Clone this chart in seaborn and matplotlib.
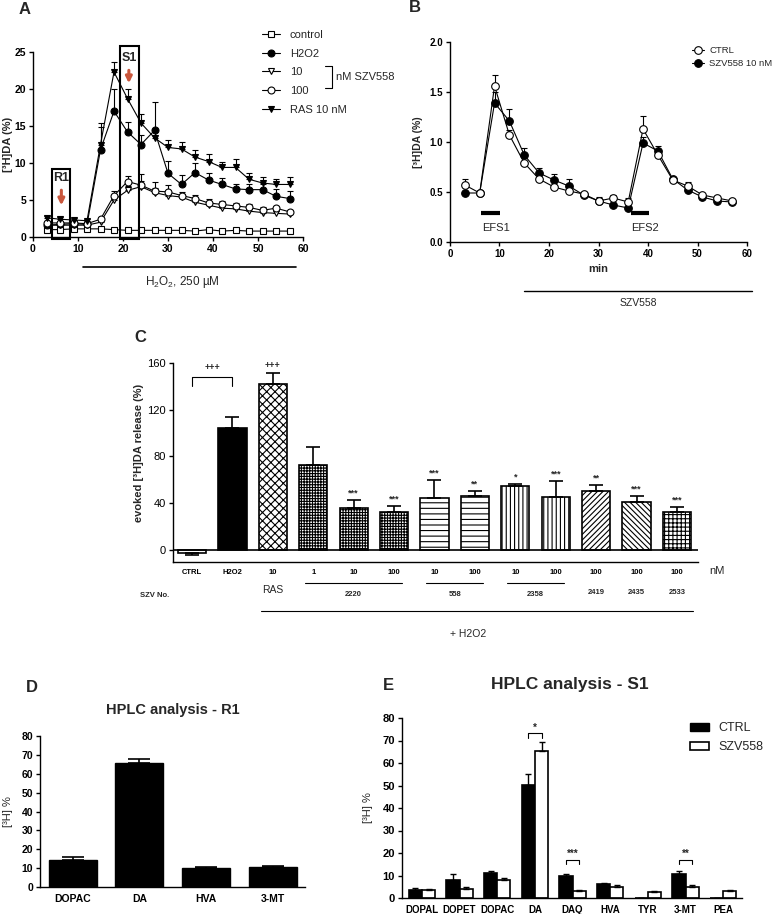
import numpy as np
import pandas as pd
import matplotlib
matplotlib.use("Agg")
import matplotlib.pyplot as plt
import matplotlib.transforms as mtransforms
from matplotlib.lines import Line2D
from matplotlib.patches import Rectangle, Patch
import seaborn as sns

sns.set_style("ticks")
plt.rcParams["font.family"] = ["Liberation Sans", "DejaVu Sans"]
plt.rcParams["mathtext.fontset"] = "custom"
plt.rcParams["mathtext.rm"] = "Liberation Sans"
plt.rcParams["mathtext.it"] = "Liberation Sans:italic"
plt.rcParams["mathtext.bf"] = "Liberation Sans:bold"
plt.rcParams["hatch.linewidth"] = 0.8
plt.rcParams["axes.linewidth"] = 1.0
plt.rcParams["axes.edgecolor"] = "black"
plt.rcParams["xtick.color"] = "black"
plt.rcParams["ytick.color"] = "black"

# ---------------- data: panel A ----------------
time_a = [3, 6, 9, 12, 15, 18, 21, 24, 27, 30, 33, 36, 39, 42, 45, 48, 51, 54, 57]
a_control = [1.0, 1.0, 1.1, 1.1, 1.1, 1.0, 0.9, 0.9, 0.9, 0.9, 0.9, 0.8, 1.0, 0.8, 0.9, 0.8, 0.8, 0.8, 0.8]
a_control_err = [0.1] * 19
a_h2o2 = [1.6, 1.7, 1.8, 1.7, 11.8, 17.0, 14.2, 12.5, 14.4, 8.6, 7.1, 8.7, 7.7, 7.1, 6.5, 6.4, 6.4, 5.5, 5.2]
a_h2o2_err = [0.3, 0.3, 0.3, 0.3, 3.0, 3.0, 1.3, 1.3, 3.9, 1.7, 1.3, 1.3, 1.0, 0.9, 0.7, 0.8, 0.7, 1.0, 1.0]
a_10 = [1.6, 1.6, 1.6, 1.6, 2.0, 5.0, 6.3, 6.8, 6.0, 5.6, 5.4, 4.7, 4.3, 3.9, 3.8, 3.5, 3.3, 3.2, 3.1]
a_10_err = [0.2, 0.2, 0.2, 0.2, 0.3, 0.5, 0.6, 0.8, 0.6, 0.5, 0.4, 0.4, 0.4, 0.3, 0.3, 0.3, 0.3, 0.3, 0.3]
a_100 = [1.9, 1.9, 1.9, 1.8, 2.4, 5.6, 7.5, 7.0, 6.2, 6.1, 5.6, 5.2, 4.6, 4.4, 4.2, 4.0, 3.6, 3.9, 3.4]
a_100_err = [0.2, 0.2, 0.2, 0.2, 0.3, 0.6, 0.8, 1.5, 1.2, 0.9, 0.5, 0.5, 0.5, 0.4, 0.4, 0.4, 0.4, 0.3, 0.3]
a_ras = [2.6, 2.4, 2.3, 2.2, 12.5, 22.3, 18.7, 15.4, 13.4, 12.1, 11.9, 10.8, 10.2, 9.4, 9.4, 7.8, 7.3, 7.1, 7.1]
a_ras_err = [0.3, 0.3, 0.3, 0.3, 2.9, 1.4, 1.3, 1.2, 1.2, 1.0, 1.0, 0.9, 1.0, 0.7, 1.1, 0.8, 0.8, 0.8, 1.0]
a_labels = ["control", "H2O2", "10", "100", "RAS 10 nM"]

# ---------------- data: panel B ----------------
time_b = [3, 6, 9, 12, 15, 18, 21, 24, 27, 30, 33, 36, 39, 42, 45, 48, 51, 54, 57]
b_ctrl = [0.57, 0.49, 1.56, 1.07, 0.79, 0.63, 0.55, 0.51, 0.48, 0.41, 0.44, 0.40, 1.13, 0.87, 0.62, 0.56, 0.47, 0.44, 0.41]
b_ctrl_err = [0.06, 0.02, 0.11, 0.05, 0.02, 0.02, 0.02, 0.01, 0.02, 0.04, 0.03, 0.04, 0.13, 0.02, 0.02, 0.04, 0.01, 0.02, 0.02]
b_szv = [0.49, 0.49, 1.39, 1.21, 0.87, 0.69, 0.62, 0.56, 0.47, 0.41, 0.37, 0.34, 0.99, 0.91, 0.63, 0.52, 0.45, 0.41, 0.40]
b_szv_err = [0.02, 0.02, 0.11, 0.12, 0.07, 0.05, 0.06, 0.07, 0.02, 0.02, 0.02, 0.02, 0.06, 0.05, 0.02, 0.03, 0.02, 0.02, 0.02]
b_labels = ["CTRL", "SZV558 10 nM"]

# ---------------- data: panel C ----------------
c_ids = ["CTRL", "H2O2", "RAS-10", "2220-1", "2220-10", "2220-100", "558-10", "558-100",
         "2358-10", "2358-100", "2419-100", "2435-100", "2533-100"]
c_ticklabels = ["CTRL", "H2O2", "10", "1", "10", "100", "10", "100", "10", "100", "100", "100", "100"]
c_values = [-2.9, 104.6, 142.0, 72.7, 35.9, 32.8, 44.8, 46.2, 54.7, 45.6, 50.7, 40.8, 32.5]
c_err = [1.4, 9.4, 9.7, 15.3, 6.6, 5.1, 14.8, 4.3, 2.0, 13.4, 5.2, 5.7, 4.0]
c_stars = ["", "", "+++", "", "***", "***", "***", "**", "*", "***", "**", "***", "***"]
c_groups = ["2220", "558", "2358"]
c_singles = ["2419", "2435", "2533"]

# ---------------- data: panel D ----------------
d_cats = ["DOPAC", "DA", "HVA", "3-MT"]
d_vals = [14.3, 65.8, 10.2, 10.8]
d_err = [1.4, 2.0, 0.3, 0.4]

# ---------------- data: panel E ----------------
e_cats = ["DOPAL", "DOPET", "DOPAC", "DA", "DAQ", "HVA", "TYR", "3-MT", "PEA"]
e_ctrl = [3.7, 8.1, 11.0, 50.4, 9.6, 6.1, 0.0, 10.7, 0.0]
e_ctrl_err = [0.7, 2.7, 1.0, 4.9, 1.2, 0.6, 0.0, 1.2, 0.0]
e_szv = [3.4, 4.1, 8.0, 65.5, 3.3, 4.9, 2.7, 4.9, 3.1]
e_szv_err = [0.5, 0.6, 0.9, 3.8, 0.4, 0.9, 0.4, 0.9, 0.6]
e_sig = {"DA": "*", "DAQ": "***", "3-MT": "**"}

# ---------------- layout helpers ----------------
W, H = 779, 914
fig = plt.figure(figsize=(W / 100, H / 100), dpi=100)


def rect(x0, y0, x1, y1):
    return [x0 / W, 1 - y1 / H, (x1 - x0) / W, (y1 - y0) / H]


def ftext(x, y, s, **kw):
    fig.text(x / W, 1 - y / H, s, **kw)


def style_ticks(ax, size=7.5, bold=True):
    ax.tick_params(direction="out", length=3, width=1, labelsize=size, pad=2)
    for lab in ax.get_xticklabels() + ax.get_yticklabels():
        lab.set_fontweight("bold" if bold else "normal")


# ======================= Panel A =======================
axA = fig.add_axes(rect(33, 52, 303, 237))
styleA = [("s", "white"), ("o", "black"), ("v", "white"), ("o", "white"), ("v", "black")]
seriesA = [(a_control, a_control_err), (a_h2o2, a_h2o2_err), (a_10, a_10_err),
           (a_100, a_100_err), (a_ras, a_ras_err)]
handlesA = []
for (vals, errs), (mk, fc), lab in zip(seriesA, styleA, a_labels):
    axA.errorbar(time_a, vals, yerr=[np.zeros(len(vals)), errs], fmt="none", ecolor="k",
                 elinewidth=0.8, capsize=2.5, capthick=0.8, zorder=2)
    sns.lineplot(x=time_a, y=vals, ax=axA, color="k", lw=0.8, marker=mk, markersize=5,
                 markerfacecolor=fc, markeredgecolor="k", markeredgewidth=0.8,
                 errorbar=None, zorder=3)
    handlesA.append(Line2D([0], [0], color="k", lw=0.8, marker=mk, markersize=5,
                           markerfacecolor=fc, markeredgecolor="k", markeredgewidth=0.8))
axA.set_xlim(0, 60)
axA.set_ylim(0, 25)
axA.set_xticks(range(0, 61, 10))
axA.set_yticks(range(0, 26, 5))
axA.set_xlabel("")
axA.set_ylabel("[³H]DA (%)", fontsize=8, fontweight="bold")
axA.yaxis.set_label_coords(-0.075, 0.5)
sns.despine(ax=axA)
style_ticks(axA)

axA.add_patch(Rectangle((4.3, -0.25), 3.9, 9.45, fill=False, lw=1.5, ec="k", clip_on=False, zorder=5))
axA.add_patch(Rectangle((19.3, -0.25), 4.2, 26.05, fill=False, lw=1.5, ec="k", clip_on=False, zorder=5))
axA.text(6.3, 8.0, "R1", ha="center", va="center", fontsize=9, fontweight="bold")
axA.text(21.4, 24.2, "S1", ha="center", va="center", fontsize=9, fontweight="bold")
arrow_col = "#c9563c"
axA.annotate("", xy=(6.3, 3.9), xytext=(6.3, 6.7),
             arrowprops=dict(arrowstyle="-|>", color=arrow_col, lw=2.2, mutation_scale=9))
axA.annotate("", xy=(21.3, 20.4), xytext=(21.3, 22.9),
             arrowprops=dict(arrowstyle="-|>", color=arrow_col, lw=2.2, mutation_scale=9))
transA = mtransforms.blended_transform_factory(axA.transData, axA.transAxes)
axA.plot([11.1, 58.4], [-0.162, -0.162], transform=transA, color="k", lw=1.2, clip_on=False)
axA.text(33.3, -0.245, r"H$_2$O$_2$, 250 µM", transform=transA, ha="center", va="center", fontsize=8.5)

fig.legend(handlesA, a_labels, loc="upper left", bbox_to_anchor=(262 / W, 1 - 30 / H),
           frameon=False, fontsize=8, handlelength=1.6, handletextpad=0.9, labelspacing=0.78,
           borderaxespad=0, borderpad=0)
fig.add_artist(Line2D([325 / W, 332 / W, 332 / W, 325 / W],
                      [1 - 66 / H, 1 - 66 / H, 1 - 88 / H, 1 - 88 / H],
                      transform=fig.transFigure, color="k", lw=0.8))
ftext(336, 77, "nM SZV558", fontsize=8, va="center", ha="left")

# ======================= Panel B =======================
axB = fig.add_axes(rect(450, 42, 747, 242))
handlesB = []
for (vals, errs), fc in zip([(b_ctrl, b_ctrl_err), (b_szv, b_szv_err)], ["white", "black"]):
    axB.errorbar(time_b, vals, yerr=[np.zeros(len(vals)), errs], fmt="none", ecolor="k",
                 elinewidth=0.8, capsize=2.5, capthick=0.8, zorder=2)
    sns.lineplot(x=time_b, y=vals, ax=axB, color="k", lw=0.8, marker="o", markersize=5.5,
                 markerfacecolor=fc, markeredgecolor="k", markeredgewidth=0.8,
                 errorbar=None, zorder=3 if fc == "black" else 4)
    handlesB.append(Line2D([0], [0], color="k", lw=0.8, marker="o", markersize=5.5,
                           markerfacecolor=fc, markeredgecolor="k", markeredgewidth=0.8))
axB.set_xlim(0, 60)
axB.set_ylim(0, 2.0)
axB.set_xticks(range(0, 61, 10))
axB.set_yticks([0.0, 0.5, 1.0, 1.5, 2.0])
axB.set_yticklabels(["0.0", "0.5", "1.0", "1.5", "2.0"])
axB.set_xlabel("min", fontsize=8, fontweight="bold", labelpad=4)
axB.set_ylabel("[³H]DA (%)", fontsize=7.5, fontweight="bold")
axB.yaxis.set_label_coords(-0.09, 0.5)
sns.despine(ax=axB)
style_ticks(axB, size=7)
axB.plot([6.3, 10.1], [0.287, 0.287], color="k", lw=3, solid_capstyle="butt")
axB.plot([36.6, 40.2], [0.287, 0.287], color="k", lw=3, solid_capstyle="butt")
axB.text(9.3, 0.14, "EFS1", ha="center", va="center", fontsize=8)
axB.text(39.4, 0.14, "EFS2", ha="center", va="center", fontsize=8)
transB = mtransforms.blended_transform_factory(axB.transData, axB.transAxes)
axB.plot([14.9, 61.0], [-0.245, -0.245], transform=transB, color="k", lw=1.0, clip_on=False)
axB.text(38.0, -0.305, "SZV558", transform=transB, ha="center", va="center", fontsize=7.5)
fig.legend(handlesB, b_labels, loc="upper left", bbox_to_anchor=(692 / W, 1 - 46 / H),
           frameon=False, fontsize=6.8, handlelength=1.3, handletextpad=0.5, labelspacing=0.45,
           borderaxespad=0, borderpad=0)

# ======================= Panel C =======================
axC = fig.add_axes(rect(173, 363, 698, 562))
sns.barplot(x=c_ids, y=c_values, order=c_ids, ax=axC, color="white", edgecolor="black",
            linewidth=1.2, width=0.7, errorbar=None, saturation=1)
c_hatches = [None, None, "xxxx", "++++++", "++++++", "++++++", "---", "---",
             "||||", "||||", "//////", "\\\\\\\\\\\\", "++++"]
barsC = list(axC.containers[0])
for i, p in enumerate(barsC):
    p.set_facecolor("black" if i == 1 else "white")
    p.set_edgecolor("black")
    if c_hatches[i]:
        p.set_hatch(c_hatches[i])
cx = [p.get_x() + p.get_width() / 2 for p in barsC]
lo = [e if v < 0 else 0 for v, e in zip(c_values, c_err)]
hi = [e if v >= 0 else 0 for v, e in zip(c_values, c_err)]
axC.errorbar(cx, c_values, yerr=[lo, hi], fmt="none", ecolor="k", elinewidth=1.2,
             capsize=5, capthick=1.2, zorder=3)
for x, v, e, s in zip(cx, c_values, c_err, c_stars):
    if s:
        axC.text(x, v + e + 6, s, ha="center", va="center", fontsize=6.5, fontweight="bold")
# CTRL vs H2O2 bracket
axC.plot([cx[0], cx[0], cx[1], cx[1]], [140, 148.3, 148.3, 140], color="k", lw=0.8)
axC.text((cx[0] + cx[1]) / 2, 156, "+++", ha="center", va="center", fontsize=6.5, fontweight="bold")
axC.axhline(0, color="k", lw=1.2, zorder=4)
axC.set_xlim(-0.47, 12.52)
axC.set_ylim(-10.3, 160)
axC.set_yticks([0, 40, 80, 120, 160])
axC.set_xticks(range(len(c_ids)))
axC.set_xticklabels(c_ticklabels)
axC.set_xlabel("")
axC.set_ylabel("evoked [³H]DA release (%)", fontsize=8, fontweight="bold")
axC.yaxis.set_label_coords(-0.055, 0.55)
sns.despine(ax=axC)
axC.tick_params(axis="y", direction="out", length=3, width=1, labelsize=8, pad=2)
axC.tick_params(axis="x", length=0, labelsize=5.5, pad=5)
for lab in axC.get_xticklabels():
    lab.set_fontweight("bold")

transC = mtransforms.blended_transform_factory(axC.transData, axC.transAxes)
axC.text(13.0, -0.045, "nM", transform=transC, ha="center", va="center", fontsize=8)
axC.text(-0.92, -0.17, "SZV No.", transform=transC, ha="center", va="center", fontsize=5.5,
         fontweight="bold")
axC.text(2, -0.14, "RAS", transform=transC, ha="center", va="center", fontsize=7.5)
group_members = [[3, 4, 5], [6, 7], [8, 9]]
for name, members in zip(c_groups, group_members):
    x0, x1 = members[0] - 0.2, members[-1] + 0.2
    axC.plot([x0, x1], [-0.106, -0.106], transform=transC, color="k", lw=0.8, clip_on=False)
    axC.text((members[0] + members[-1]) / 2, -0.165, name, transform=transC, ha="center",
             va="center", fontsize=5.5, fontweight="bold")
for name, pos in zip(c_singles, [10, 11, 12]):
    axC.text(pos, -0.155, name, transform=transC, ha="center", va="center", fontsize=5.5,
             fontweight="bold")
axC.plot([1.7, 12.4], [-0.246, -0.246], transform=transC, color="k", lw=0.8, clip_on=False)
axC.text(6.83, -0.36, "+ H2O2", transform=transC, ha="center", va="center", fontsize=7.5)

# ======================= Panel D =======================
axD = fig.add_axes(rect(40, 736, 305, 887))
sns.barplot(x=d_cats, y=d_vals, order=d_cats, ax=axD, color="black", edgecolor="black",
            width=0.72, errorbar=None, saturation=1)
barsD = list(axD.containers[0])
dx = [p.get_x() + p.get_width() / 2 for p in barsD]
axD.errorbar(dx, d_vals, yerr=[np.zeros(len(d_vals)), d_err], fmt="none", ecolor="k",
             elinewidth=1.2, capsize=8, capthick=1.2, zorder=3)
axD.set_xlim(-0.49, 3.48)
axD.set_ylim(0, 80)
axD.set_yticks(range(0, 81, 10))
axD.set_xlabel("")
axD.set_ylabel("[³H] %", fontsize=8)
axD.yaxis.set_label_coords(-0.1, 0.5)
sns.despine(ax=axD)
style_ticks(axD, size=7.5)
axD.tick_params(axis="x", length=0, pad=5)

# ======================= Panel E =======================
axE = fig.add_axes(rect(402, 718, 742, 898))
dfE = pd.DataFrame({
    "cat": e_cats * 2,
    "val": e_ctrl + e_szv,
    "grp": ["CTRL"] * len(e_cats) + ["SZV558"] * len(e_cats),
})
sns.barplot(data=dfE, x="cat", y="val", hue="grp", order=e_cats, hue_order=["CTRL", "SZV558"],
            palette={"CTRL": "black", "SZV558": "white"}, edgecolor="black", linewidth=1.2,
            width=0.7, errorbar=None, saturation=1, legend=False, ax=axE)
ex = {}
for cont, vals, errs in zip(axE.containers, [e_ctrl, e_szv], [e_ctrl_err, e_szv_err]):
    xs = [p.get_x() + p.get_width() / 2 for p in cont]
    ex[len(ex)] = xs
    axE.errorbar(xs, vals, yerr=[np.zeros(len(vals)), errs], fmt="none", ecolor="k",
                 elinewidth=1.0, capsize=2.5, capthick=1.0, zorder=3)
sig_y = {"DA": 73.3, "DAQ": 17.0, "3-MT": 17.0}
for cat, s in e_sig.items():
    i = e_cats.index(cat)
    x0, x1 = ex[0][i], ex[1][i]
    y = sig_y[cat]
    axE.plot([x0, x0, x1, x1], [y - 2, y, y, y - 2], color="k", lw=0.8)
    axE.text((x0 + x1) / 2, y + 2.5, s, ha="center", va="center", fontsize=7, fontweight="bold")
axE.set_xlim(-0.53, 8.5)
axE.set_ylim(0, 80)
axE.set_yticks(range(0, 81, 10))
axE.set_xlabel("")
axE.set_ylabel("[³H] %", fontsize=8)
axE.yaxis.set_label_coords(-0.085, 0.5)
sns.despine(ax=axE)
style_ticks(axE, size=8)
axE.tick_params(axis="x", length=0, pad=5, labelsize=7)
handlesE = [Patch(facecolor="black", edgecolor="black"),
            Patch(facecolor="white", edgecolor="black", linewidth=1.2)]
fig.legend(handlesE, ["CTRL", "SZV558"], loc="upper left", bbox_to_anchor=(690 / W, 1 - 722 / H),
           frameon=False, fontsize=9, handlelength=1.5, handleheight=0.6, handletextpad=0.8,
           labelspacing=0.6, borderaxespad=0, borderpad=0)

# ---------------- titles & panel letters ----------------
ftext(173, 710, "HPLC analysis - R1", fontsize=10.5, fontweight="bold", ha="center", va="center")
ftext(570, 685, "HPLC analysis - S1", fontsize=12.5, fontweight="bold", ha="center", va="center")
for letter, x, y in [("A", 25, 9), ("B", 415, 8), ("C", 140, 337), ("D", 32, 687), ("E", 388, 685)]:
    ftext(x, y, letter, fontsize=12, fontweight="bold", ha="center", va="center")

fig.savefig("out.png", dpi=100)
